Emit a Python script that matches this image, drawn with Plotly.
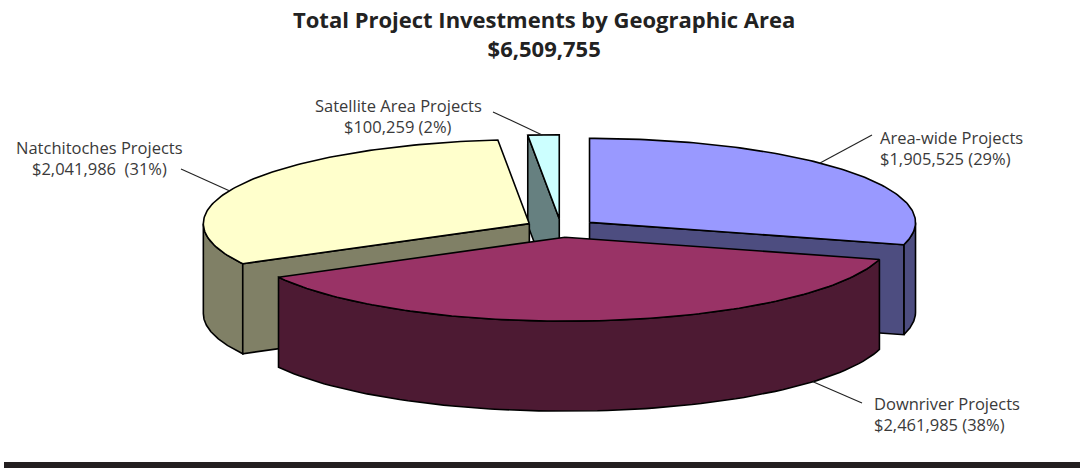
import numpy as np
import plotly.graph_objects as go

# ---------------- data ----------------
categories = ["Area-wide Projects", "Downriver Projects", "Natchitoches Projects", "Satellite Area Projects"]
values = [1905525, 2461985, 2041986, 100259]
top_colors = ["#9999FF", "#993366", "#FFFFCC", "#CCFFFF"]
side_colors = ["#4D4D80", "#4D1A33", "#808066", "#668080"]
label_seps = [" ", " ", "  ", " "]
title_text = "Total Project Investments by Geographic Area"

# ---------------- layout / geometry ----------------
W, H = 1083, 468
CX, CY = 561, 228          # pie centre (pixels)
RX, RY = 326, 84           # ellipse radii of top face
DEPTH = 90                 # thickness
EXPLODE = 0.11             # explosion fraction of radius
LINE_GAP = 21              # label line spacing

# label placement (text anchor x, y of first line centre, xanchor, leader start, leader angle, on bottom rim)
label_cfg = [
    dict(x=878, y=137, xanchor="left", lx=872, ly=135, ang=45.0, bottom=False),
    dict(x=872, y=403, xanchor="left", lx=862, ly=403, ang=130.5, bottom=True),
    dict(x=99, y=147, xanchor="center", lx=181, ly=169, ang=293.0, bottom=False),
    dict(x=398, y=105, xanchor="center", lx=493, ly=112, ang=357.0, bottom=False),
]

total = sum(values)
fracs = [v / total for v in values]
starts = np.concatenate([[0], np.cumsum(fracs)[:-1]]) * 360.0
ends = np.cumsum(fracs) * 360.0


def pt(theta, ox, oy, r=1.0, dz=0.0):
    t = np.radians(theta)
    return CX + ox + r * RX * np.sin(t), CY + oy - r * RY * np.cos(t) + dz


fig = go.Figure()
OUT = dict(color="black", width=1.6)


def add_poly(xs, ys, color):
    xs = list(xs) + [xs[0]]
    ys = list(ys) + [ys[0]]
    fig.add_trace(go.Scatter(x=xs, y=ys, mode="lines", fill="toself", fillcolor=color,
                             line=OUT, hoverinfo="skip", showlegend=False))


slices = []
for i in range(len(values)):
    ts, te = starts[i], ends[i]
    mid = np.radians((ts + te) / 2)
    ox = EXPLODE * RX * np.sin(mid)
    oy = -EXPLODE * RY * np.cos(mid)
    slices.append((i, ts, te, ox, oy, -np.cos(mid)))

for i, ts, te, ox, oy, _ in sorted(slices, key=lambda s: s[5]):
    ax, ay = CX + ox, CY + oy
    # outer curved wall (front-facing part)
    a0, a1 = max(ts, 90.0), min(te, 270.0)
    if a1 > a0:
        th = np.linspace(a0, a1, 80)
        xt, yt = pt(th, ox, oy)
        xb, yb = pt(th[::-1], ox, oy, dz=DEPTH)
        add_poly(np.concatenate([xt, xb]), np.concatenate([yt, yb]), side_colors[i])
    # start cut face
    if np.sin(np.radians(ts)) < -1e-6:
        rx_, ry_ = pt(ts, ox, oy)
        add_poly([ax, rx_, rx_, ax], [ay, ry_, ry_ + DEPTH, ay + DEPTH], side_colors[i])
    # end cut face
    if np.sin(np.radians(te)) > 1e-6:
        rx_, ry_ = pt(te, ox, oy)
        add_poly([ax, rx_, rx_, ax], [ay, ry_, ry_ + DEPTH, ay + DEPTH], side_colors[i])
    # top face
    th = np.linspace(ts, te, 120)
    xt, yt = pt(th, ox, oy)
    add_poly(np.concatenate([[ax], xt]), np.concatenate([[ay], yt]), top_colors[i])

# labels and leader lines
annotations = []
LABEL_FONT = dict(family="Open Sans", size=16.5, color="#3a3a3a")
for i, cfg in enumerate(label_cfg):
    ts, te = starts[i], ends[i]
    mid = np.radians((ts + te) / 2)
    ox = EXPLODE * RX * np.sin(mid)
    oy = -EXPLODE * RY * np.cos(mid)
    ex, ey = pt(cfg["ang"], ox, oy, dz=DEPTH if cfg["bottom"] else 0)
    fig.add_trace(go.Scatter(x=[cfg["lx"], ex], y=[cfg["ly"], ey], mode="lines",
                             line=dict(color="#222222", width=1.1), hoverinfo="skip", showlegend=False))
    pct = round(fracs[i] * 100)
    lines = [categories[i], f"${values[i]:,.0f}{label_seps[i]}({pct}%)"]
    for k, ln in enumerate(lines):
        annotations.append(dict(x=cfg["x"], y=cfg["y"] + k * LINE_GAP, xref="x", yref="y",
                                text=ln.replace("  ", "&nbsp; "), showarrow=False,
                                xanchor=cfg["xanchor"], yanchor="middle", font=LABEL_FONT))

TITLE_FONT = dict(family="Open Sans", size=22, color="#222222")
annotations.append(dict(x=W / 2 + 2, y=33.5, xref="x", yref="y", showarrow=False,
                        yanchor="middle", text=f"<b>{title_text}</b><br><b>${total:,.0f}</b>",
                        font=TITLE_FONT))

fig.update_layout(
    width=W, height=H, margin=dict(l=0, r=0, t=0, b=0),
    paper_bgcolor="white", plot_bgcolor="white",
    xaxis=dict(range=[0, W], visible=False, fixedrange=True),
    yaxis=dict(range=[H, 0], visible=False, fixedrange=True),
    annotations=annotations,
    shapes=[dict(type="rect", xref="x", yref="y", x0=4, x1=1080, y0=462, y1=468,
                 fillcolor="#231F20", line=dict(width=0), layer="above")],
)

fig.write_html("out.html", config={"displayModeBar": False},
               post_script="document.body.style.margin='0';")
